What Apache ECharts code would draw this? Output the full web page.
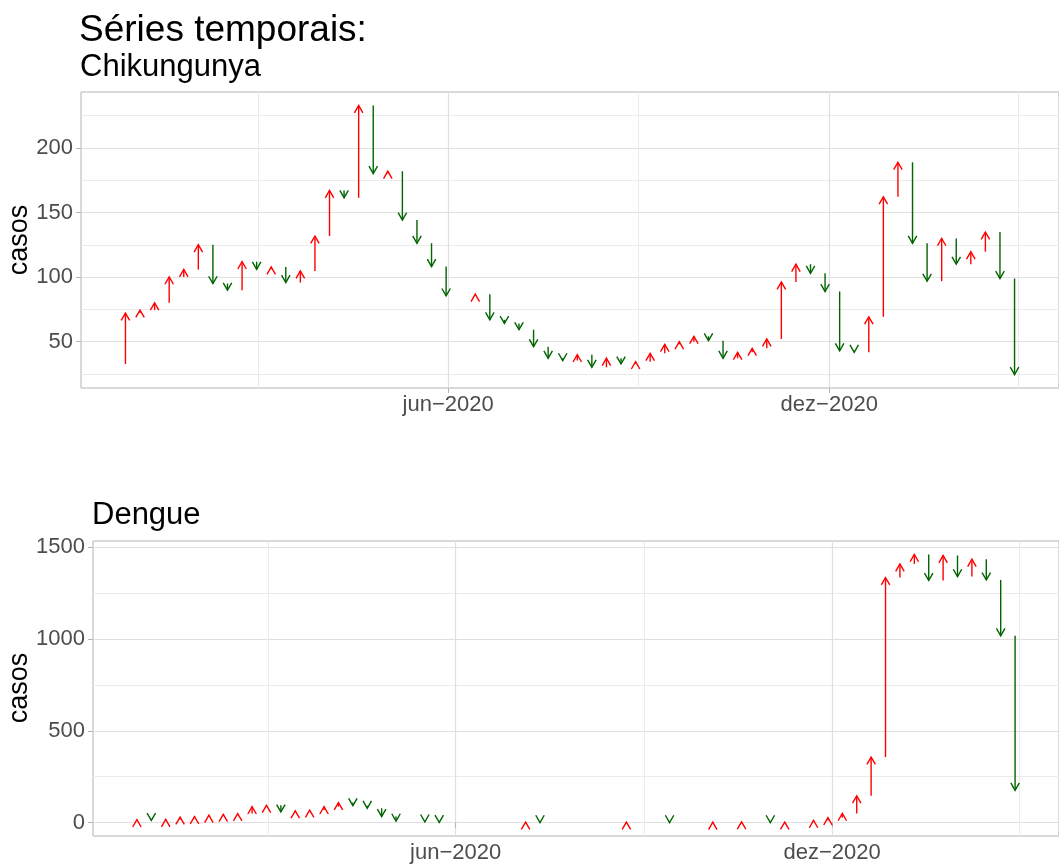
<!DOCTYPE html>
<html>
<head>
    <meta charset="UTF-8">
    <title>Séries temporais</title>
    <script src="https://cdn.jsdelivr.net/npm/echarts@6/dist/echarts.min.js"></script>
    <style>
        html, body { margin: 0; padding: 0; background: #fff; }
        #chart { width: 1059px; height: 865px; }
    </style>
</head>
<body>
<div id="chart"></div>
<script type="text/javascript">
    // semanas epidemiologicas (a primeira so serve de ponto de partida da primeira seta)
    var semanas = [
        '2019-12-22', '2019-12-29', '2020-01-05', '2020-01-12', '2020-01-19', '2020-01-26', '2020-02-02',
        '2020-02-09', '2020-02-16', '2020-02-23', '2020-03-01', '2020-03-08', '2020-03-15', '2020-03-22',
        '2020-03-29', '2020-04-05', '2020-04-12', '2020-04-19', '2020-04-26', '2020-05-03', '2020-05-10',
        '2020-05-17', '2020-05-24', '2020-05-31', '2020-06-07', '2020-06-14', '2020-06-21', '2020-06-28',
        '2020-07-05', '2020-07-12', '2020-07-19', '2020-07-26', '2020-08-02', '2020-08-09', '2020-08-16',
        '2020-08-23', '2020-08-30', '2020-09-06', '2020-09-13', '2020-09-20', '2020-09-27', '2020-10-04',
        '2020-10-11', '2020-10-18', '2020-10-25', '2020-11-01', '2020-11-08', '2020-11-15', '2020-11-22',
        '2020-11-29', '2020-12-06', '2020-12-13', '2020-12-20', '2020-12-27', '2021-01-03', '2021-01-10',
        '2021-01-17', '2021-01-24', '2021-01-31', '2021-02-07', '2021-02-14', '2021-02-21', '2021-02-28'
    ];

    var chikCasos = [
        32.8, 72.2, 74.5, 80.1, 100.2, 105.9, 125.1, 95.0, 89.9, 112.0, 106.1,
        107.9, 95.8, 104.8, 131.8, 167.1, 161.4, 232.9, 180.2, 182.0, 144.2,
        126.2, 108.2, 85.5, 85.5, 86.8, 67.0, 64.2, 59.3, 46.2, 37.2,
        35.4, 40.0, 30.2, 37.2, 32.8, 34.6, 41.0, 48.0, 50.0, 54.2,
        50.8, 37.2, 41.8, 44.9, 52.1, 96.3, 110.0, 103.0, 88.9, 43.0,
        41.8, 69.3, 162.2, 188.9, 126.2, 96.9, 130.0, 110.0, 119.7, 134.9,
        98.9, 24.6
    ];

    var dengCasos = [
        8, 16, 12, 17, 30, 33, 40, 45, 49, 87, 94,
        58, 64, 68, 87, 109, 92, 78, 33, 8, 8,
        4, 1, 1, 1, 1, 1, 1, 3, 0, 0,
        0, 0, 0, 0, 3, 3, 3, 0, 0, 0,
        2, 2, 4, 4, 0, 3, 3, 12, 27, 50,
        146, 357, 1335, 1409, 1461, 1319, 1455, 1340, 1435, 1322,
        1018, 176
    ];

    var yTicksChik = [50, 100, 150, 200];
    var yMinorChik = [25, 75, 125, 175, 225];
    var yTicksDeng = [0, 500, 1000, 1500];
    var yMinorDeng = [250, 750, 1250];
    var xTicks = ['2020-06-01', '2020-12-01'];
    var xMinor = ['2020-03-02', '2020-08-31T12:00:00Z', '2021-03-02'];
    var meses = ['jan', 'fev', 'mar', 'abr', 'mai', 'jun', 'jul', 'ago', 'set', 'out', 'nov', 'dez'];

    function ms(s) { return new Date(s).getTime(); }

    function expand(lo, hi) {
        var r = hi - lo;
        return [lo - 0.05 * r, hi + 0.05 * r];
    }

    function setas(casos) {
        var out = [];
        for (var k = 1; k < casos.length; k++) {
            out.push([ms(semanas[k]), casos[k - 1], casos[k]]);
        }
        return out;
    }

    var tempos = semanas.slice(1).map(ms);
    var xRange = expand(Math.min.apply(null, tempos), Math.max.apply(null, tempos));
    var chikRange = expand(Math.min.apply(null, chikCasos), Math.max.apply(null, chikCasos));
    var dengRange = expand(Math.min.apply(null, dengCasos), Math.max.apply(null, dengCasos));

    var fonte = 'Liberation Sans, Arial, Helvetica, sans-serif';
    var cinzaTexto = '#4D4D4D';
    var cinzaGrade = '#E0E0E0';
    var cinzaBorda = '#B3B3B3';

    function rotulo(v) {
        var d = new Date(v);
        return meses[d.getUTCMonth()] + '\u2212' + d.getUTCFullYear();
    }

    function eixoX(grid) {
        return [{
            type: 'value', gridIndex: grid, min: xRange[0], max: xRange[1],
            axisLine: { show: false },
            axisTick: { show: true, length: 5, customValues: xTicks.map(ms), lineStyle: { color: cinzaBorda } },
            axisLabel: { customValues: xTicks.map(ms), formatter: rotulo, fontSize: 22, color: cinzaTexto, fontFamily: fonte, margin: 6 },
            splitLine: { show: true, lineStyle: { color: cinzaGrade, width: 1.2 } }
        }, {
            type: 'value', gridIndex: grid, min: xRange[0], max: xRange[1], position: 'bottom',
            axisLine: { show: false },
            axisTick: { show: false, customValues: xMinor.map(ms) },
            axisLabel: { show: false },
            splitLine: { show: true, lineStyle: { color: '#EBEBEB', width: 1 } }
        }];
    }

    function eixoY(grid, range, ticks, minor) {
        return [{
            type: 'value', gridIndex: grid, min: range[0], max: range[1],
            axisLine: { show: false },
            axisTick: { show: true, length: 5, customValues: ticks, lineStyle: { color: cinzaBorda } },
            axisLabel: { customValues: ticks, formatter: function (v) { return String(v); },
                         fontSize: 22, color: cinzaTexto, fontFamily: fonte, margin: 8 },
            splitLine: { show: true, lineStyle: { color: cinzaGrade, width: 1.2 } }
        }, {
            type: 'value', gridIndex: grid, min: range[0], max: range[1], position: 'left',
            axisLine: { show: false },
            axisTick: { show: false, customValues: minor },
            axisLabel: { show: false },
            splitLine: { show: true, lineStyle: { color: '#EBEBEB', width: 1 } }
        }];
    }

    function desenhaSeta(params, api) {
        var x = api.value(0), a = api.value(1), b = api.value(2);
        if (a === b) return;
        var p0 = api.coord([x, a]);
        var p1 = api.coord([x, b]);
        var sobe = b > a;
        var cor = sobe ? '#FF0000' : '#006400';
        var L = 8.5;
        var dx = L * Math.sin(Math.PI / 6);
        var dy = L * Math.cos(Math.PI / 6) * (sobe ? 1 : -1);
        return {
            type: 'group',
            children: [
                { type: 'line', shape: { x1: p0[0], y1: p0[1], x2: p1[0], y2: p1[1] },
                  style: { stroke: cor, lineWidth: 1.4 } },
                { type: 'polyline', shape: { points: [[p1[0] - dx, p1[1] + dy], [p1[0], p1[1]], [p1[0] + dx, p1[1] + dy]] },
                  style: { stroke: cor, fill: null, lineWidth: 1.4 } }
            ]
        };
    }

    var myChart = echarts.init(document.getElementById('chart'), null, { renderer: 'canvas' });

    var option = {
        animation: false,
        backgroundColor: '#ffffff',
        grid: [
            { left: 81, top: 92, width: 988, height: 296, show: true, borderColor: cinzaBorda, borderWidth: 1, backgroundColor: 'transparent' },
            { left: 93, top: 541, width: 976, height: 295, show: true, borderColor: cinzaBorda, borderWidth: 1, backgroundColor: 'transparent' }
        ],
        xAxis: eixoX(0).concat(eixoX(1)),
        yAxis: eixoY(0, chikRange, yTicksChik, yMinorChik).concat(eixoY(1, dengRange, yTicksDeng, yMinorDeng)),
        graphic: [
            { type: 'text', left: 79, top: 12, style: { text: 'Séries temporais:', fill: '#000', font: '37px ' + fonte } },
            { type: 'text', left: 80, top: 52, style: { text: 'Chikungunya', fill: '#000', font: '31px ' + fonte } },
            { type: 'text', left: 92, top: 500, style: { text: 'Dengue', fill: '#000', font: '31px ' + fonte } },
            { type: 'text', x: 20, y: 240, rotation: Math.PI / 2,
              style: { text: 'casos', font: '27px ' + fonte, fill: '#000', align: 'center', verticalAlign: 'middle' } },
            { type: 'text', x: 20, y: 688, rotation: Math.PI / 2,
              style: { text: 'casos', font: '27px ' + fonte, fill: '#000', align: 'center', verticalAlign: 'middle' } }
        ],
        series: [
            {
                name: 'Chikungunya', type: 'custom', xAxisIndex: 0, yAxisIndex: 0,
                renderItem: desenhaSeta, encode: { x: 0, y: [1, 2] },
                data: setas(chikCasos), z: 5
            },
            {
                name: 'Dengue', type: 'custom', xAxisIndex: 2, yAxisIndex: 2,
                renderItem: desenhaSeta, encode: { x: 0, y: [1, 2] },
                data: setas(dengCasos), z: 5
            }
        ]
    };
    myChart.setOption(option);
</script>
</body>
</html>
